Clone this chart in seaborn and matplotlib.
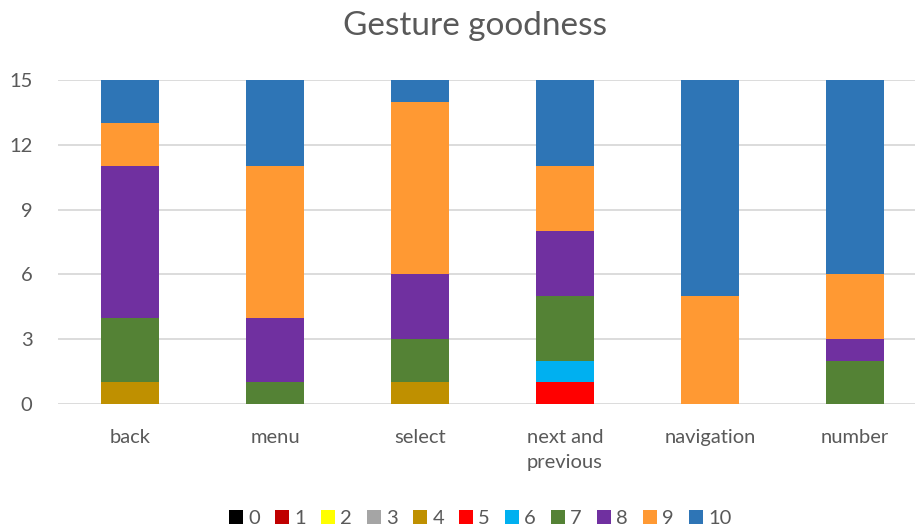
import matplotlib
matplotlib.use("Agg")
import matplotlib.pyplot as plt
from matplotlib.patches import Patch
import numpy as np
import pandas as pd
import seaborn as sns

# Gestures and the number of ratings each one received per score (0-10)
gestures = ["back", "menu", "select", "next and\nprevious", "navigation", "number"]
scores = ["0", "1", "2", "3", "4", "5", "6", "7", "8", "9", "10"]
score_0 = [0, 0, 0, 0, 0, 0]
score_1 = [0, 0, 0, 0, 0, 0]
score_2 = [0, 0, 0, 0, 0, 0]
score_3 = [0, 0, 0, 0, 0, 0]
score_4 = [1, 0, 1, 0, 0, 0]
score_5 = [0, 0, 0, 1, 0, 0]
score_6 = [0, 0, 0, 1, 0, 0]
score_7 = [3, 1, 2, 3, 0, 2]
score_8 = [7, 3, 3, 3, 0, 1]
score_9 = [2, 7, 8, 3, 5, 3]
score_10 = [2, 4, 1, 4, 10, 9]
colors = ["#000000", "#C00000", "#FFFF00", "#A5A5A5", "#BF9000", "#FF0000",
          "#00B0F0", "#548235", "#7030A0", "#FF9933", "#2E75B6"]

counts = [score_0, score_1, score_2, score_3, score_4, score_5,
          score_6, score_7, score_8, score_9, score_10]

sns.set_theme(style="white")
plt.rcParams["font.family"] = ["Lato", "DejaVu Sans"]
text_color = "#595959"

fig = plt.figure(figsize=(9.15, 5.29), dpi=100)
ax = fig.add_axes([57.5 / 915, 125 / 529, 870 / 915, 324 / 529])

# Stack by drawing cumulative totals from the top score downwards
cum = np.cumsum(np.array(counts), axis=0)
for i in range(len(scores) - 1, -1, -1):
    df = pd.DataFrame({"gesture": gestures, "total": cum[i]})
    sns.barplot(data=df, x="gesture", y="total", color=colors[i],
                saturation=1, width=0.4, linewidth=0, ax=ax, zorder=3)

ax.set_xlim(-0.5, 5.5)
ax.set_ylim(0, 15)
ax.set_yticks(range(0, 16, 3))
ax.yaxis.grid(True, color="#D9D9D9", linewidth=1.3, zorder=0)
ax.xaxis.grid(False)
ax.set_axisbelow(True)
for s in ax.spines.values():
    s.set_visible(False)
ax.set_xlabel("")
ax.set_ylabel("")
ax.tick_params(axis="both", length=0, labelsize=14.5, labelcolor=text_color)
ax.tick_params(axis="x", pad=18)
ax.tick_params(axis="y", pad=18)
for lbl in ax.get_xticklabels():
    lbl.set_linespacing(1.55)

fig.text(0.519, 0.950, "Gesture goodness", ha="center", va="center",
         fontsize=24, color=text_color)

handles = [Patch(facecolor=c, edgecolor="none") for c in colors]
fig.legend(handles, scores, loc="center", bbox_to_anchor=(0.525, 0.02),
           ncol=11, frameon=False, fontsize=14.5, labelcolor=text_color,
           handlelength=0.7, handleheight=0.7, handletextpad=0.25,
           columnspacing=0.75)

fig.savefig("out.png", dpi=100)
